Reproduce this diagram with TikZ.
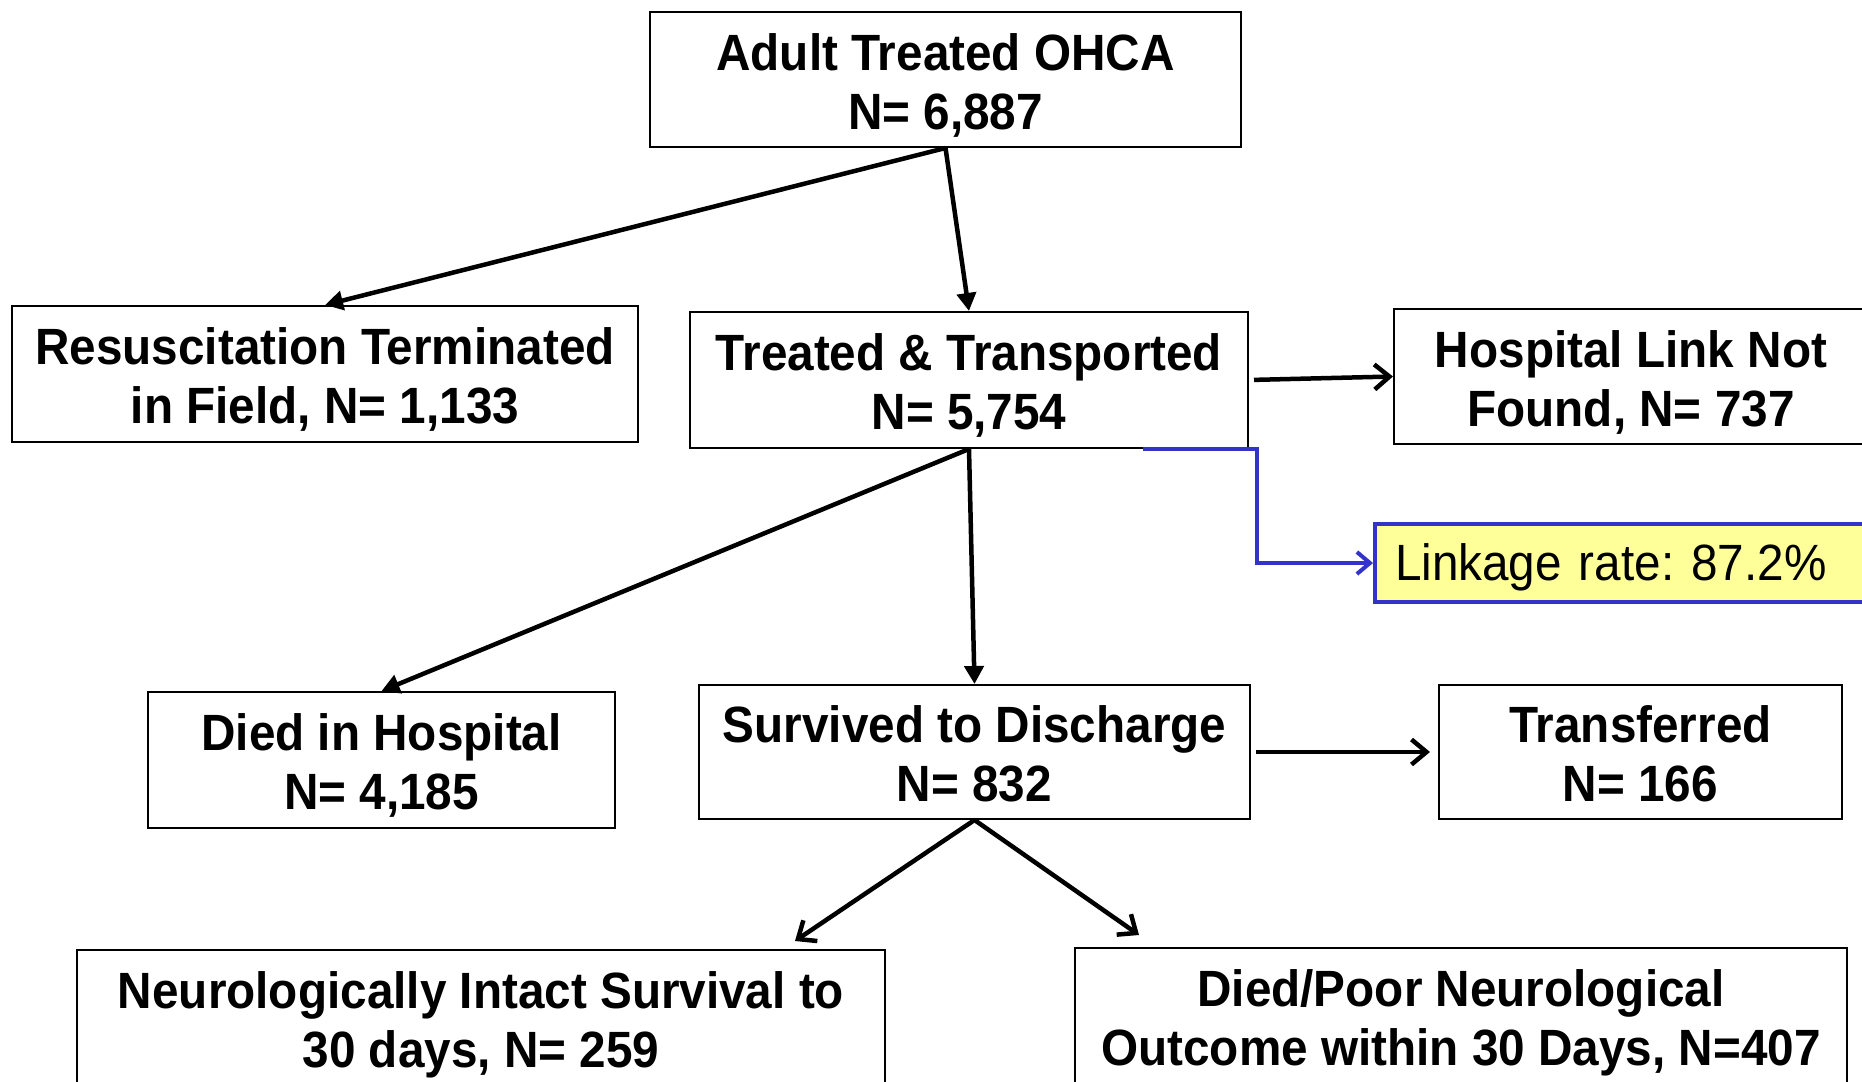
\documentclass[tikz,border=0pt]{standalone}
\usepackage{fontspec}
\setmainfont{Liberation Sans}[FakeStretch=0.935]
\frenchspacing
\usetikzlibrary{calc, arrows.meta}

\begin{document}
\begin{tikzpicture}[x=1pt, y=-1pt,
    box/.style={draw=borderColour, line width=2pt, inner sep=0pt, align=center,
        text height=99pt, text depth=0pt, font=\bfseries\fontsize{51}{59}\selectfont},
    flow/.style={line width=4.5pt, -{Triangle[length=18pt, width=19pt]}},
    side/.style={line width=4.5pt, -{Straight Barb[length=15pt, width=25pt, line width=4.5pt]}}]
    % Define colours
    \definecolor{borderColour}{HTML}{000000}
    \definecolor{linkColour}{HTML}{3333CC}
    \definecolor{noteColour}{HTML}{FFFF99}

    % Fix the canvas
    \fill[white] (0,0) rectangle (1862,1081);
    \clip (0,0) rectangle (1862,1081);

    % Define coordinates for the boxes
    \coordinate (A) at (945.5,79.5);
    \coordinate (R) at (325,374);
    \coordinate (T) at (969,380);
    \coordinate (H) at (1631,376.5);
    \coordinate (L) at (1373,563);
    \coordinate (D) at (381.5,760);
    \coordinate (S) at (974.5,752);
    \coordinate (X) at (1640.5,752);
    \coordinate (I) at (481,1018);
    \coordinate (P) at (1461,1016);

    % Draw the boxes
    \node[box, minimum width=591pt, minimum height=135pt] (adult) at (A) {Adult Treated OHCA\\N= 6,887};
    \node[box, minimum width=626pt, minimum height=136pt] (resus) at (R) {Resuscitation Terminated\\in Field, N= 1,133};
    \node[box, minimum width=558pt, minimum height=136pt] (treated) at (T) {Treated \& Transported\\N= 5,754};
    \node[box, minimum width=474pt, minimum height=135pt] (hlink) at (H) {Hospital Link Not\\Found, N= 737};
    \node[draw=linkColour, fill=noteColour, line width=4pt, anchor=west, text width=460pt,
        inner xsep=20pt, inner ysep=0pt, minimum height=78pt, align=left,
        text height=37pt, text depth=3pt, font=\fontsize{51}{59}\selectfont] (link) at (L) {Linkage rate: 87.2\%};
    \node[box, minimum width=467pt, minimum height=136pt] (died) at (D) {Died in Hospital\\N= 4,185};
    \node[box, minimum width=551pt, minimum height=134pt] (surv) at (S) {Survived to Discharge\\N= 832};
    \node[box, minimum width=403pt, minimum height=134pt] (trans) at (X) {Transferred\\N= 166};
    \node[box, minimum width=808pt, minimum height=136pt] (neuro) at (I) {Neurologically Intact Survival to\\30 days, N= 259};
    \node[box, minimum width=772pt, minimum height=136pt] (poor) at (P) {Died/Poor Neurological\\Outcome within 30 Days, N=407};

    % Draw the arrows
    \draw[flow] (adult.south) -- (resus.north);
    \draw[flow] (adult.south) -- (treated.north);
    \draw[flow] (treated.south) -- (died.north);
    \draw[flow] (treated.south) -- (surv.north);
    \draw[side, shorten <=5pt] (treated.east) -- (hlink.west);
    \draw[side, shorten <=5pt, shorten >=8pt] (surv.east) -- (trans.west);
    \draw[side] (surv.south) -- ($(neuro.north east)+(-91,-8)$);
    \draw[side] (surv.south) -- ($(poor.north west)+(65,-12)$);

    % Draw the linkage connector
    \draw[linkColour, line width=4pt, -{Straight Barb[length=13pt, width=22pt, line width=4pt]}]
        ($(treated.south east)+(-106,0)$) -- ++(114,0) |- (link.west);

\end{tikzpicture}
\end{document}
